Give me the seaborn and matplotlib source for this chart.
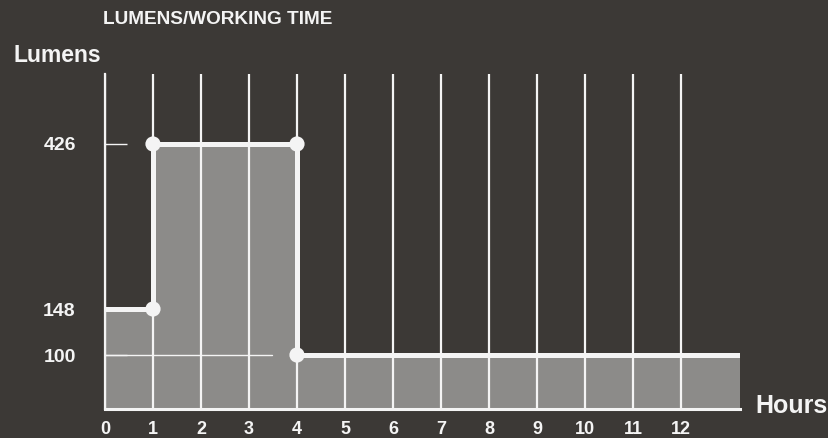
import numpy as np
import matplotlib
matplotlib.use("Agg")
import matplotlib.pyplot as plt
import seaborn as sns

# Output profile: lumens per operating mode over time
hours = [0, 1, 4, 13.23]
lumens = [148, 426, 100, 100]
# Mode-change points marked with dots
change_hours = [1, 1, 4, 4]
change_lumens = [148, 426, 426, 100]
x_ticks = list(range(0, 13))
y_ticks = [100, 148, 426]

BG = "#3c3936"
FILL = "#8c8b89"
WHITE = "#f4f4f4"

sns.set_style("white")
plt.rcParams["font.family"] = ["Liberation Sans", "DejaVu Sans"]
plt.rcParams["font.weight"] = "bold"

# Stylised (piecewise-linear) vertical axis used by the original artwork
_lum_pts = [0, 100, 148, 426, 544]
_pos_pts = [0, 54, 100, 265, 335]


def _fwd(v):
    return np.interp(v, _lum_pts, _pos_pts)


def _inv(p):
    return np.interp(p, _pos_pts, _lum_pts)


fig = plt.figure(figsize=(8.29, 4.38), dpi=100)
fig.patch.set_facecolor(BG)
ax = fig.add_axes([105 / 829, 29 / 438, 635 / 829, 335 / 438])
ax.set_facecolor("none")
ax.set_yscale("function", functions=(_fwd, _inv))
ax.set_xlim(0, 13.23)
ax.set_ylim(0, 544)

# Shaded area under the output curve
ax.fill_between(hours, lumens, 0, step="post", color=FILL, lw=0, zorder=1)

# Vertical hour grid
ax.set_xticks(x_ticks)
ax.grid(axis="x", color=WHITE, lw=1.6, zorder=2)
ax.grid(axis="y", visible=False)
ax.set_axisbelow(False)

# Reference line at the 100 lm level
ax.plot([0, 3.48], [100, 100], color=WHITE, lw=1.0, zorder=2)

# Output step line and mode-change markers
sns.lineplot(x=hours, y=lumens, drawstyle="steps-post", color=WHITE, lw=3.6,
             estimator=None, ax=ax, zorder=4, solid_capstyle="butt")
sns.scatterplot(x=change_hours, y=change_lumens, s=120, color=WHITE,
                edgecolor="none", ax=ax, zorder=5, clip_on=False)

ax.set_yticks(y_ticks)
ax.set_yticklabels([str(v) for v in y_ticks])
ax.tick_params(axis="y", left=True, direction="in", length=16, width=1.0,
               color=WHITE, labelcolor=WHITE, labelsize=14, pad=21)
ax.tick_params(axis="x", bottom=False, length=0, labelcolor=WHITE,
               labelsize=13, pad=9)
for lbl in ax.get_xticklabels() + ax.get_yticklabels():
    lbl.set_fontweight("bold")

for side in ("top", "right"):
    ax.spines[side].set_visible(False)
ax.spines["left"].set_color(WHITE)
ax.spines["left"].set_linewidth(1.6)
ax.spines["bottom"].set_color(WHITE)
ax.spines["bottom"].set_linewidth(2.2)
ax.set_xlabel("")
ax.set_ylabel("")

fig.text(103 / 829, 1 - 20 / 438, "LUMENS/WORKING TIME", color=WHITE,
         fontsize=13.7, fontweight="bold", ha="left", va="center")
fig.text(14 / 829, 1 - 56 / 438, "Lumens", color=WHITE,
         fontsize=16.5, fontweight="bold", ha="left", va="center")
fig.text(755 / 829, 1 - 406 / 438, "Hours", color=WHITE,
         fontsize=18, fontweight="bold", ha="left", va="center")

fig.savefig("out.png", dpi=100, facecolor=BG)
